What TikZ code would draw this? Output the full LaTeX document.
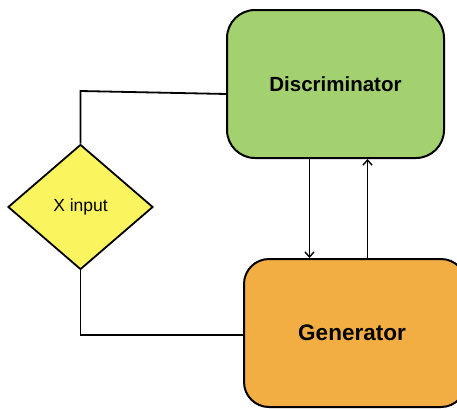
\documentclass[tikz,border=0pt]{standalone}
\usepackage{fontspec}
\setmainfont{Liberation Sans}
\usetikzlibrary{shapes.geometric,arrows.meta}
\definecolor{discgreen}{RGB}{163,209,112}
\definecolor{genorange}{RGB}{242,174,66}
\definecolor{inyellow}{RGB}{250,245,95}
\tikzset{
  box/.style={draw=black, line width=2pt, rounded corners=28pt, inner sep=0pt, font=\bfseries},
  inbox/.style={draw=black, line width=1.8pt, shape=diamond, inner sep=0pt, fill=inyellow, font=\fontsize{17.5}{19}\selectfont},
  conn/.style={draw=black, line width=1.8pt},
  arr/.style={conn, -{Straight Barb[length=5pt,width=9pt,line width=1.4pt]}}
}
\begin{document}
\begin{tikzpicture}[x=1pt,y=-1pt]
\useasboundingbox (0,0) rectangle (457,408);
\fill[white] (0,0) rectangle (457,408);
\node[box, fill=discgreen, minimum width=217pt, minimum height=148pt, font=\bfseries\fontsize{20.5}{22}\selectfont] (d) at (335.5,84) {Discriminator};
\node[box, fill=genorange, rounded corners=25pt, minimum width=222pt, minimum height=148pt, font=\bfseries\fontsize{22.5}{24}\selectfont] (g) at (355,333) {\hspace*{-6pt}Generator};
\node[inbox, minimum width=145pt, minimum height=125pt] (x) at (80.5,207) {X input};
\coordinate (c1) at (80.5,91);
\coordinate (dl) at (227,94);
\draw[conn] (x.north) -- (c1) -- (dl);
\coordinate (c2) at (80.5,335);
\coordinate (gl) at (244,335);
\draw[conn] (x.south) -- (c2) -- (gl);
\draw[arr] (d.south -| 309.5,0) -- (g.north -| 309.5,0);
\draw[arr] (g.north -| 367.5,0) -- (d.south -| 367.5,0);
\end{tikzpicture}
\end{document}
